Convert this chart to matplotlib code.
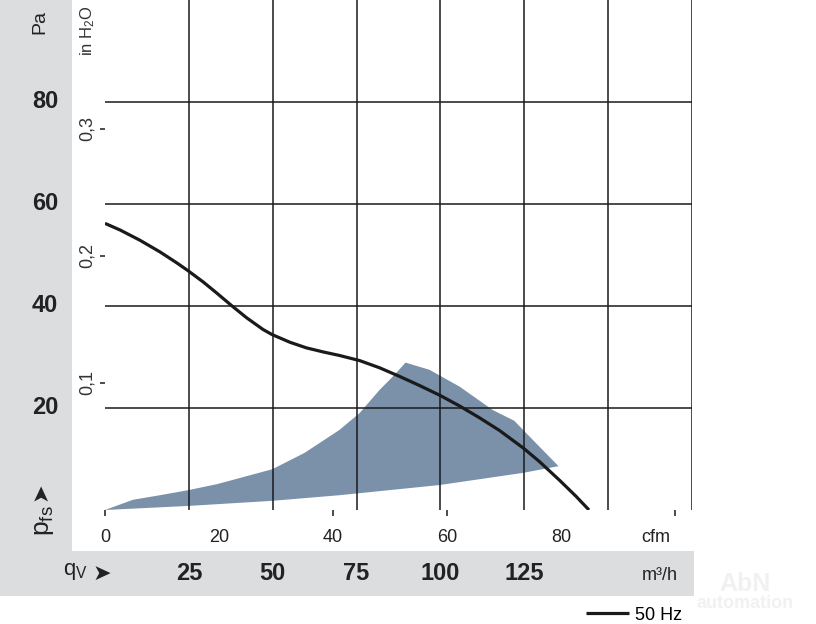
import numpy as np
import matplotlib
matplotlib.use('Agg')
import matplotlib.pyplot as plt
from matplotlib.patches import Rectangle
import matplotlib.transforms as mtransforms

FONT = ['Liberation Sans Narrow', 'Liberation Sans', 'DejaVu Sans']
plt.rcParams['font.family'] = FONT
plt.rcParams['mathtext.fontset'] = 'custom'
plt.rcParams['mathtext.rm'] = 'Liberation Sans'
plt.rcParams['mathtext.it'] = 'Liberation Sans'

# fan curve, 50 Hz (flow in m3/h, static pressure in Pa)
flow_m3h = [0, 4.5, 10.4, 16.4, 21.3, 24.8, 29.3, 33.2, 37.7, 42.2, 47.1, 49.8,
            55.1, 60.0, 65.0, 69.9, 75.9, 81.8, 87.8, 93.8, 99.8, 105.7, 111.6,
            117.6, 124.8, 129.5, 135.4, 140.4, 144.3]
pressure_pa = [56.2, 54.9, 52.9, 50.6, 48.5, 46.9, 44.7, 42.6, 40.1, 37.7, 35.4, 34.4,
               32.9, 31.8, 31.0, 30.3, 29.3, 27.9, 26.2, 24.4, 22.5, 20.4, 18.1,
               15.6, 12.1, 9.5, 5.9, 2.7, 0.0]

# operating range (shaded area)
env_upper_q = [0, 8.3, 16.4, 24.9, 33.6, 49.9, 59.5, 69.9, 75.9, 81.8, 86.3, 89.6,
               96.7, 105.7, 115.6, 122.0, 128.5, 135.2]
env_upper_p = [0, 2.0, 2.9, 3.9, 5.1, 8.0, 11.2, 15.7, 19.0, 23.5, 26.5, 28.9,
               27.5, 24.2, 19.6, 17.5, 13.1, 8.6]
env_lower_q = [135.2, 124.8, 99.8, 75.9, 69.9, 49.9, 24.9, 0]
env_lower_p = [8.6, 7.3, 4.9, 3.3, 2.9, 1.8, 0.8, 0]

# axis labels
pa_ticks = [20, 40, 60, 80]
m3h_ticks = [25, 50, 75, 100, 125]
cfm_ticks = [0, 20, 40, 60, 80, 100]
inh2o_ticks = [0.1, 0.2, 0.3]
CFM = 1.699      # m3/h per cfm
INH2O = 249.09   # Pa per inH2O

W, H = 816, 624
fig = plt.figure(figsize=(W / 100, H / 100), dpi=100)


def fx(x):
    return x / W


def fy(y):
    return 1 - y / H


grey = '#dcdddf'
ink = '#1a1a1a'
txt = '#222222'
fig.patches.append(Rectangle((0, fy(551)), fx(72), 551 / H, transform=fig.transFigure,
                             facecolor=grey, edgecolor='none', zorder=-5))
fig.patches.append(Rectangle((0, fy(596)), fx(694), 45 / H, transform=fig.transFigure,
                             facecolor=grey, edgecolor='none', zorder=-5))

# faint watermark, bottom right
fig.text(fx(745), fy(584), 'AbN', fontsize=18, weight='bold', color='#f1f1f1',
         ha='center', va='center', zorder=-4)
fig.text(fx(745), fy(604), 'automation', fontsize=13, weight='bold', color='#f1f1f1',
         ha='center', va='center', zorder=-4)

ax = fig.add_axes([fx(105), fy(510), 587 / W, 510 / H])
ax.patch.set_alpha(0)
ax.set_xlim(0, 175)
ax.set_ylim(0, 100)
for s in ax.spines.values():
    s.set_visible(False)

ax.fill(env_upper_q + env_lower_q, env_upper_p + env_lower_p,
        facecolor='#7a91a9', edgecolor='none', zorder=1)
line, = ax.plot(flow_m3h, pressure_pa, color=ink, lw=2.3, zorder=3,
                solid_capstyle='butt', solid_joinstyle='round', label='50 Hz')

# grid on minor ticks
ax.set_xticks(np.arange(0, 176, 25), minor=True)
ax.set_yticks(pa_ticks, minor=True)
ax.grid(which='minor', color=ink, lw=1.1)
ax.tick_params(which='minor', length=0)

# cfm scale along the bottom
ax.set_xticks([c * CFM for c in cfm_ticks])
ax.set_xticklabels([str(c) for c in cfm_ticks[:-1]] + [''])
ax.tick_params(axis='x', which='major', length=4.5, width=1.1, color=ink,
               pad=9, labelsize=13, labelcolor=txt)
for t, c in zip(ax.xaxis.get_major_ticks(), cfm_ticks):
    if c in (20, 80):
        t.tick1line.set_visible(False)
fig.text(fx(656), fy(537), 'cfm', ha='center', va='center', fontsize=13, color=txt)

# inH2O scale on the left
ax.set_yticks([v * INH2O for v in inh2o_ticks])
ax.set_yticklabels([f'{v:.1f}'.replace('.', ',') for v in inh2o_ticks])
ax.tick_params(axis='y', which='major', length=3.8, width=1.1, color=ink, pad=3,
               labelsize=13, labelcolor='#333333', labelrotation=90)
for lab in ax.get_yticklabels():
    lab.set_va('center')

fig.text(fx(88), fy(31), r'in $\mathregular{H_2O}$', rotation=90, fontsize=12,
         ha='center', va='center', color='#333333')

# Pa scale in the grey panel
tr_pa = mtransforms.blended_transform_factory(fig.transFigure, ax.transData)
for p in pa_ticks:
    ax.text(fx(45), p, str(p), transform=tr_pa, ha='center', va='center',
            fontsize=17, weight='bold', color=txt)
fig.text(fx(40), fy(22), 'Pa', rotation=90, fontsize=14, ha='center', va='center',
         color=txt)
fig.text(fx(40), fy(492), '\u27a4', rotation=90, fontsize=16, ha='center', va='center',
         color=txt, family=['DejaVu Sans'])
fig.text(fx(44), fy(521), r'$\mathregular{p_{fs}}$', rotation=90, fontsize=19,
         ha='center', va='center', color=txt)

# m3/h scale in the bottom band
tr_q = mtransforms.blended_transform_factory(ax.transData, fig.transFigure)
for q in m3h_ticks:
    ax.text(q, fy(574), str(q), transform=tr_q, ha='center', va='center',
            fontsize=17, weight='bold', color=txt)
fig.text(fx(660), fy(575), 'm³/h', fontsize=13, ha='center', va='center', color=txt)
fig.text(fx(75), fy(572), r'$\mathregular{q_V}$', fontsize=16, ha='center', va='center',
         color=txt)
fig.text(fx(102), fy(574), '\u27a4', fontsize=16, ha='center', va='center',
         color=txt, family=['DejaVu Sans'])

ax.legend(handles=[line], loc='center left', bbox_to_anchor=(fx(586), fy(615)),
          bbox_transform=fig.transFigure, frameon=False, fontsize=13,
          handlelength=2.4, handletextpad=0.3, borderpad=0, borderaxespad=0)

fig.savefig('out.png', dpi=100)
